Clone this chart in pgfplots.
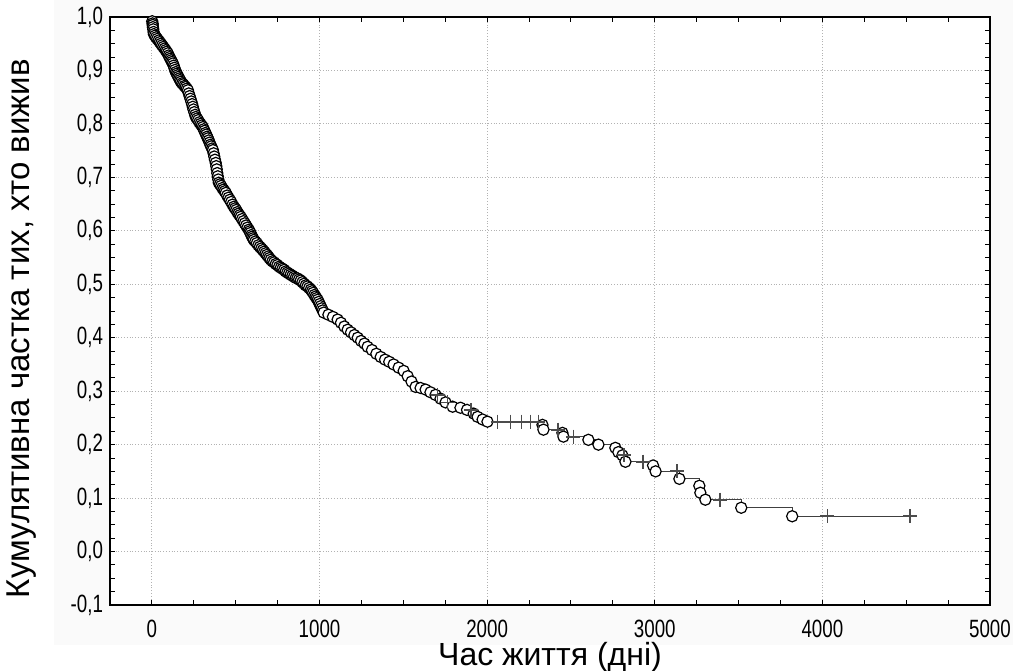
\documentclass[border=0pt]{standalone}
\usepackage{fontspec}
\setmainfont{Liberation Sans}
\newfontfamily\narrowfont{Liberation Sans}[FakeStretch=0.75]
\usepackage{pgfplots}
\usepackage{pgfplotstable}
\pgfplotsset{compat=1.18}

% t = days, s = survival, c: 1 event, 0 censored, 2 start
\pgfplotstableread{
t s c
0 1.000 2
2 0.992 1
4 0.988 1
5 0.985 1
6 0.981 1
8 0.977 1
10 0.972 1
12 0.968 1
18 0.965 1
25 0.962 1
32 0.959 1
40 0.956 1
47 0.953 1
54 0.950 1
61 0.947 1
68 0.944 1
75 0.941 1
82 0.938 1
88 0.935 1
95 0.932 1
100 0.928 1
105 0.925 1
110 0.922 1
115 0.919 1
120 0.916 1
125 0.913 1
130 0.909 1
134 0.905 1
138 0.901 1
143 0.897 1
148 0.894 1
153 0.891 1
158 0.888 1
163 0.885 1
168 0.882 1
173 0.879 1
180 0.876 1
187 0.874 1
194 0.871 1
201 0.869 1
208 0.866 1
215 0.863 1
220 0.857 1
225 0.852 1
230 0.847 1
235 0.842 1
240 0.837 1
244 0.832 1
248 0.827 1
253 0.822 1
258 0.817 1
262 0.813 1
269 0.810 1
276 0.807 1
283 0.803 1
290 0.800 1
297 0.797 1
304 0.794 1
309 0.790 1
314 0.787 1
319 0.783 1
324 0.780 1
329 0.776 1
334 0.773 1
339 0.769 1
344 0.765 1
349 0.761 1
354 0.758 1
359 0.754 1
364 0.751 1
368 0.745 1
372 0.739 1
376 0.733 1
381 0.727 1
384 0.721 1
387 0.715 1
390 0.708 1
393 0.702 1
396 0.696 1
399 0.690 1
406 0.687 1
413 0.684 1
420 0.680 1
427 0.677 1
434 0.674 1
441 0.671 1
449 0.666 1
457 0.662 1
465 0.658 1
473 0.654 1
481 0.649 1
489 0.645 1
496 0.642 1
503 0.639 1
510 0.635 1
516 0.632 1
523 0.629 1
530 0.626 1
538 0.622 1
546 0.618 1
554 0.614 1
562 0.610 1
570 0.606 1
578 0.602 1
583 0.599 1
588 0.596 1
593 0.592 1
598 0.589 1
603 0.586 1
608 0.583 1
617 0.580 1
626 0.577 1
635 0.573 1
644 0.570 1
653 0.567 1
662 0.564 1
670 0.561 1
678 0.558 1
686 0.555 1
694 0.552 1
701 0.549 1
709 0.546 1
719 0.543 1
729 0.541 1
739 0.538 1
749 0.536 1
759 0.533 1
769 0.531 1
779 0.529 1
789 0.527 1
798 0.524 1
808 0.522 1
818 0.520 1
828 0.518 1
838 0.516 1
848 0.514 1
858 0.512 1
868 0.511 1
878 0.509 1
888 0.507 1
898 0.504 1
908 0.501 1
918 0.498 1
928 0.496 1
938 0.493 1
948 0.490 1
955 0.487 1
962 0.484 1
969 0.480 1
976 0.477 1
982 0.474 1
989 0.471 1
995 0.467 1
1001 0.463 1
1007 0.459 1
1013 0.455 1
1019 0.451 1
1025 0.447 1
1053 0.443 1
1080 0.439 1
1108 0.434 1
1128 0.428 1
1148 0.421 1
1168 0.415 1
1188 0.410 1
1208 0.405 1
1228 0.400 1
1248 0.394 1
1268 0.389 1
1287 0.383 1
1313 0.377 1
1339 0.370 1
1365 0.364 1
1391 0.359 1
1416 0.355 1
1442 0.350 1
1472 0.344 1
1502 0.338 1
1526 0.328 1
1549 0.318 1
1573 0.308 1
1603 0.306 1
1633 0.303 1
1662 0.298 1
1692 0.293 1
1704 0.293 0
1722 0.286 1
1752 0.279 1
1764 0.279 0
1794 0.271 1
1841 0.269 1
1880 0.265 1
1905 0.265 0
1920 0.258 1
1943 0.252 1
1973 0.247 1
2002 0.243 1
2062 0.243 0
2139 0.243 0
2205 0.243 0
2259 0.243 0
2306 0.243 0
2330 0.237 1
2336 0.228 1
2425 0.228 0
2449 0.222 1
2455 0.215 1
2515 0.215 0
2604 0.209 1
2664 0.200 1
2765 0.194 1
2783 0.186 1
2807 0.180 1
2815 0.180 0
2825 0.168 1
2932 0.168 0
2990 0.161 1
3005 0.150 1
3135 0.150 0
3147 0.136 1
3266 0.123 1
3272 0.110 1
3302 0.097 1
3391 0.097 0
3516 0.082 1
3820 0.066 1
4030 0.066 0
4523 0.066 0
}\kmdata

\begin{document}
\begin{tikzpicture}
\useasboundingbox (-55pt,-32.5pt) rectangle (451.5pt,302.5pt);
\fill[gray!4] (-28pt,-20pt) rectangle (451.5pt,302.5pt);
\begin{axis}[
  scale only axis, width=440pt, height=294pt,
  xmin=-250, xmax=5000, ymin=-0.1, ymax=1.0,
  xtick={0,1000,2000,3000,4000,5000},
  ytick={-0.1,0,0.1,0.2,0.3,0.4,0.5,0.6,0.7,0.8,0.9,1.0},
  minor x tick num=3, minor y tick num=3,
  tick align=inside, major tick length=2.5pt, minor tick length=2.5pt,
  tick style={black, line width=0.5pt},
  axis line style={black, line width=0.7pt},
  grid=major, major grid style={densely dotted, gray!60, line width=0.5pt},
  axis background/.style={fill=white},
  /pgf/number format/assume math mode=true,
  tick label style={font=\narrowfont\fontsize{12.5}{14}\selectfont},
  xticklabel style={/pgf/number format/1000 sep={}, yshift=-4pt},
  yticklabel style={/pgf/number format/.cd, fixed, fixed zerofill, precision=1, use comma},
  xlabel={Час життя (дні)},
  ylabel={Кумулятивна частка тих, хто вижив},
  label style={font=\fontsize{16.5}{18}\selectfont},
  xlabel style={at={(axis description cs:0.5,-0.089)}, anchor=center, font=\fontsize{16}{18}\selectfont},
  ylabel style={at={(axis description cs:-0.1,0.47)}, anchor=center},
]
\addplot[const plot, draw=black!75, line width=0.6pt, mark=none] table[x=t, y=s] {\kmdata};
\addplot[only marks, mark=*, mark size=2.8pt, mark options={fill=white, draw=black, line width=0.6pt},
  unbounded coords=discard, y filter/.expression={\thisrow{c}==1 ? y : nan}] table[x=t, y=s] {\kmdata};
\addplot[only marks, mark=+, mark size=3.5pt, mark options={draw=black!70, line width=0.9pt},
  unbounded coords=discard, y filter/.expression={\thisrow{c}==0 ? y : nan}] table[x=t, y=s] {\kmdata};
\end{axis}
\end{tikzpicture}
\end{document}
